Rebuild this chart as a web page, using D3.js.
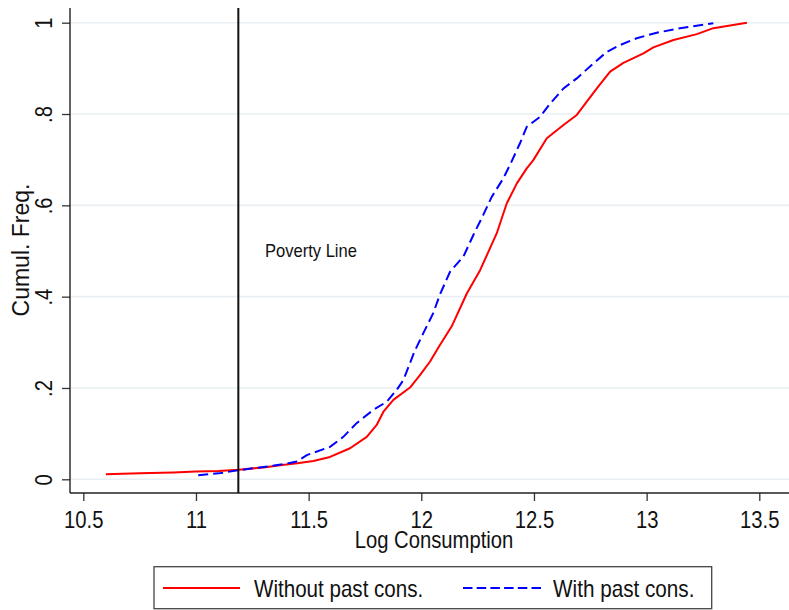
<!DOCTYPE html>
<html><head><meta charset="utf-8">
<script src="https://cdn.jsdelivr.net/npm/d3@7"></script>
<style>body{margin:0;background:#fff}svg{display:block}</style>
</head><body>
<svg id="c" width="789" height="610"></svg>
<script>
const xTicks = [10.5, 11, 11.5, 12, 12.5, 13, 13.5];
const xTickLabels = ["10.5", "11", "11.5", "12", "12.5", "13", "13.5"];
const yTicks = [0, 0.2, 0.4, 0.6, 0.8, 1];
const yTickLabels = ["0", ".2", ".4", ".6", ".8", "1"];
const povertyLine = 11.188;
const seriesNames = ["Without past cons.", "With past cons."];

const redX = [10.60,10.75,10.90,11.00,11.10,11.19,11.30,11.373,11.45,11.521,11.595,11.684,11.758,11.802,11.832,11.876,11.950,11.994,12.039,12.080,12.135,12.202,12.261,12.335,12.379,12.424,12.468,12.497,12.557,12.631,12.690,12.779,12.838,12.897,12.986,13.030,13.119,13.223,13.296,13.445];
const redY = [0.011,0.013,0.015,0.017,0.018,0.021,0.026,0.031,0.035,0.040,0.049,0.068,0.093,0.119,0.148,0.174,0.201,0.228,0.258,0.292,0.335,0.407,0.458,0.539,0.604,0.648,0.681,0.699,0.747,0.776,0.798,0.856,0.893,0.912,0.933,0.946,0.962,0.975,0.988,1.0];

const blueX = [11.01,11.10,11.19,11.30,11.40,11.447,11.492,11.595,11.654,11.713,11.787,11.847,11.891,11.920,11.970,12.009,12.053,12.083,12.128,12.187,12.231,12.275,12.313,12.364,12.395,12.438,12.468,12.527,12.572,12.631,12.690,12.764,12.823,12.882,12.956,13.045,13.148,13.296];
const blueY = [0.009,0.013,0.020,0.027,0.034,0.039,0.053,0.071,0.093,0.123,0.152,0.170,0.196,0.217,0.280,0.320,0.364,0.405,0.455,0.488,0.535,0.579,0.619,0.659,0.690,0.736,0.772,0.794,0.823,0.856,0.878,0.911,0.936,0.951,0.966,0.978,0.988,0.999];

const svg = d3.select("#c");
const FONT = "Arial, 'Liberation Sans', sans-serif";
const plotL = 70, plotR = 789, plotT = 8, plotB = 493;
const x = d3.scaleLinear().domain([10.5, 13.5]).range([83.3, 759.3]);
const y = d3.scaleLinear().domain([0, 1]).range([479.3, 22.7]);

// gridlines
svg.append("g").selectAll("line").data(yTicks).join("line")
  .attr("x1", plotL).attr("x2", plotR)
  .attr("y1", d => y(d)).attr("y2", d => y(d))
  .attr("stroke", "#e9eff3").attr("stroke-width", 1.6);

// axes
const xAxis = svg.append("g").attr("transform", `translate(0,${plotB})`)
  .call(d3.axisBottom(x).tickValues(xTicks).tickFormat((d, i) => xTickLabels[i]).tickSize(8).tickSizeOuter(0));
xAxis.select(".domain").remove();
xAxis.selectAll(".tick line").attr("stroke", "#333").attr("stroke-width", 1.3);
xAxis.selectAll(".tick text")
  .attr("y", null).attr("dy", null)
  .attr("transform", "translate(0,34.7) scale(0.88,1)")
  .attr("font-family", FONT).attr("font-size", 23).attr("fill", "#111");

const yAxis = svg.append("g").attr("transform", `translate(${plotL},0)`)
  .call(d3.axisLeft(y).tickValues(yTicks).tickFormat((d, i) => yTickLabels[i]).tickSize(8).tickSizeOuter(0));
yAxis.select(".domain").remove();
yAxis.selectAll(".tick line").attr("stroke", "#333").attr("stroke-width", 1.3);
yAxis.selectAll(".tick text")
  .attr("x", null).attr("dy", null)
  .attr("text-anchor", "middle")
  .attr("transform", "translate(-18,0) rotate(-90) scale(0.88,1)")
  .attr("font-family", FONT).attr("font-size", 23).attr("fill", "#111");

// axis lines
svg.append("line").attr("x1", plotL).attr("x2", plotL).attr("y1", plotT).attr("y2", plotB)
  .attr("stroke", "#222").attr("stroke-width", 1.4);
svg.append("line").attr("x1", plotL).attr("x2", plotR).attr("y1", plotB).attr("y2", plotB)
  .attr("stroke", "#222").attr("stroke-width", 1.4);

// curves
const line = d3.line().x(d => x(d[0])).y(d => y(d[1]));
const redData = redX.map((v, i) => [v, redY[i]]);
const blueData = blueX.map((v, i) => [v, blueY[i]]);
svg.append("path").datum(redData).attr("d", line)
  .attr("fill", "none").attr("stroke", "#ff0000").attr("stroke-width", 2).attr("stroke-linejoin", "round");
svg.append("path").datum(blueData).attr("d", line)
  .attr("fill", "none").attr("stroke", "#0000ff").attr("stroke-width", 2).attr("stroke-dasharray", "10,5");

// poverty line
svg.append("line").attr("x1", x(povertyLine)).attr("x2", x(povertyLine)).attr("y1", plotT).attr("y2", plotB)
  .attr("stroke", "#111").attr("stroke-width", 2);
svg.append("text").attr("transform", "translate(265,256.7) scale(0.89,1)")
  .attr("font-family", FONT).attr("font-size", 18.6).attr("fill", "#111").text("Poverty Line");

// axis titles
svg.append("text").attr("transform", `translate(434,548) scale(0.88,1)`)
  .attr("text-anchor", "middle").attr("font-family", FONT).attr("font-size", 23).attr("fill", "#111")
  .text("Log Consumption");
svg.append("text").attr("transform", `translate(29,250) rotate(-90)`)
  .attr("text-anchor", "middle").attr("font-family", FONT).attr("font-size", 23).attr("fill", "#111")
  .text("Cumul. Freq.");

// legend
const lg = svg.append("g");
lg.append("rect").attr("x", 154).attr("y", 566.7).attr("width", 557.7).attr("height", 42)
  .attr("fill", "#fff").attr("stroke", "#444").attr("stroke-width", 1.3);
lg.append("line").attr("x1", 163).attr("x2", 240).attr("y1", 588).attr("y2", 588)
  .attr("stroke", "#ff0000").attr("stroke-width", 2);
lg.append("text").attr("transform", "translate(254,596.7) scale(0.895,1)")
  .attr("font-family", FONT).attr("font-size", 23).attr("fill", "#111").text(seriesNames[0]);
lg.append("line").attr("x1", 463).attr("x2", 542).attr("y1", 588).attr("y2", 588)
  .attr("stroke", "#0000ff").attr("stroke-width", 2).attr("stroke-dasharray", "9.5,4.2");
lg.append("text").attr("transform", "translate(553,596.7) scale(0.9,1)")
  .attr("font-family", FONT).attr("font-size", 23).attr("fill", "#111").text(seriesNames[1]);
</script>
</body></html>
